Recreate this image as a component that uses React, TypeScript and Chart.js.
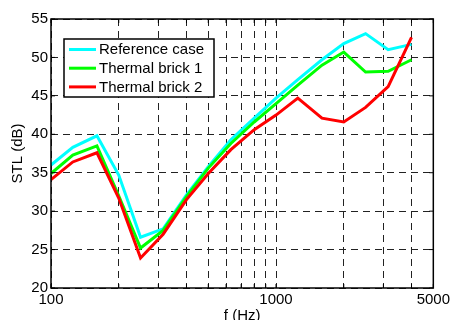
import React, { useEffect, useRef } from 'react';
import { Chart, registerables } from 'chart.js';

Chart.register(...registerables);

const frequencies = [100, 125, 160, 200, 250, 315, 400, 500, 630, 800, 1000, 1250, 1600, 2000, 2500, 3150, 4000];
const referenceCase = [36.0, 38.3, 39.8, 34.7, 26.6, 27.7, 32.1, 35.8, 39.3, 42.1, 44.7, 47.1, 49.7, 51.8, 53.1, 51.0, 51.7];
const thermalBrick1 = [34.9, 37.3, 38.5, 32.0, 25.2, 27.5, 31.9, 35.6, 38.8, 41.6, 44.0, 46.4, 49.0, 50.7, 48.1, 48.2, 49.7];
const thermalBrick2 = [34.1, 36.4, 37.6, 31.7, 23.9, 27.0, 31.5, 34.9, 38.0, 40.6, 42.5, 44.7, 42.1, 41.6, 43.5, 46.2, 52.6];

const xTickValues = [100, 200, 300, 400, 500, 600, 700, 800, 900, 1000, 2000, 3000, 4000, 5000];
const xLabelValues = [100, 1000, 5000];
const seriesLabels = ['Reference case', 'Thermal brick 1', 'Thermal brick 2'];
const seriesColors = ['#00ffff', '#00ff00', '#ff0000'];
const seriesValues = [referenceCase, thermalBrick1, thermalBrick2];

const FONT = "'Liberation Sans', Arial, Helvetica, sans-serif";

const framePlugin = {
  id: 'frameAndLegend',
  afterDatasetsDraw(chart: any) {
    const { ctx, chartArea: a } = chart;
    const xs = chart.scales.x;
    const ys = chart.scales.y;
    ctx.save();
    ctx.strokeStyle = '#000';
    ctx.lineWidth = 1;
    ctx.setLineDash([]);
    const seg = (x1: number, y1: number, x2: number, y2: number) => {
      ctx.beginPath();
      ctx.moveTo(x1, y1);
      ctx.lineTo(x2, y2);
      ctx.stroke();
    };
    xs.ticks.forEach((t: any) => {
      const px = xs.getPixelForValue(t.value);
      seg(px, a.bottom, px, a.bottom - 4);
      seg(px, a.top, px, a.top + 4);
    });
    ys.ticks.forEach((t: any) => {
      const py = ys.getPixelForValue(t.value);
      seg(a.left, py, a.left + 4, py);
      seg(a.right, py, a.right - 4, py);
    });
    ctx.lineWidth = 1.5;
    ctx.strokeRect(a.left, a.top, a.right - a.left, a.bottom - a.top);

    // legend
    const bx = a.left + 13;
    const by = a.top + 20;
    const bw = 150;
    const bh = 58;
    ctx.fillStyle = '#fff';
    ctx.fillRect(bx, by, bw, bh);
    ctx.lineWidth = 1.5;
    ctx.strokeStyle = '#000';
    ctx.strokeRect(bx, by, bw, bh);
    ctx.font = `15px ${FONT}`;
    ctx.textBaseline = 'middle';
    ctx.textAlign = 'left';
    chart.data.datasets.forEach((ds: any, i: number) => {
      const cy = by + 10.5 + i * 18.7;
      ctx.strokeStyle = ds.borderColor;
      ctx.lineWidth = 3;
      seg(bx + 5, cy, bx + 32, cy);
      ctx.fillStyle = '#000';
      ctx.fillText(ds.label, bx + 35, cy + 0.5);
    });
    ctx.restore();
  },
};

export default function App() {
  const canvasRef = useRef<HTMLCanvasElement | null>(null);

  useEffect(() => {
    document.body.style.margin = '0';
    const canvas = canvasRef.current;
    if (!canvas) return;
    const chart = new Chart(canvas, {
      type: 'line',
      data: {
        datasets: seriesLabels.map((label, i) => ({
          label,
          data: frequencies.map((f, j) => ({ x: f, y: seriesValues[i][j] })),
          borderColor: seriesColors[i],
          backgroundColor: seriesColors[i],
          borderWidth: 3,
          pointRadius: 0,
          tension: 0,
          borderJoinStyle: 'miter' as const,
          fill: false,
          order: 3 - i,
        })),
      },
      options: {
        animation: false,
        responsive: false,
        events: [],
        layout: { padding: { left: 0, top: 19, right: 19, bottom: 0 } },
        plugins: {
          legend: { display: false },
          tooltip: { enabled: false },
        },
        scales: {
          x: {
            type: 'logarithmic',
            min: 100,
            max: 5000,
            afterBuildTicks: (s: any) => {
              s.ticks = xTickValues.map((v) => ({ value: v }));
            },
            afterFit: (s: any) => {
              s.height = 32;
            },
            ticks: {
              autoSkip: false,
              maxRotation: 0,
              minRotation: 0,
              padding: 3,
              color: '#000',
              font: { family: FONT, size: 15 },
              callback: (v: any) => (xLabelValues.includes(Number(v)) ? String(v) : ''),
            },
            grid: { color: '#222', lineWidth: 1, drawTicks: false },
            border: { display: false, dash: [7, 5] },
            title: {
              display: true,
              text: 'f (Hz)',
              color: '#000',
              font: { family: FONT, size: 15 },
              padding: { top: 0, bottom: -4.5 },
            },
          },
          y: {
            type: 'linear',
            min: 20,
            max: 55,
            afterFit: (s: any) => {
              s.width = 51;
            },
            ticks: {
              stepSize: 5,
              padding: 3,
              color: '#000',
              font: { family: FONT, size: 15 },
            },
            grid: { color: '#222', lineWidth: 1, drawTicks: false },
            border: { display: false, dash: [7, 5] },
            title: {
              display: true,
              text: 'STL (dB)',
              color: '#000',
              font: { family: FONT, size: 15 },
              padding: { top: 8.5, bottom: 0 },
            },
          },
        },
      },
      plugins: [framePlugin],
    } as any);
    return () => chart.destroy();
  }, []);

  return (
    <div style={{ width: 453, height: 320 }}>
      <canvas ref={canvasRef} width={453} height={320} style={{ display: 'block' }} />
    </div>
  );
}
